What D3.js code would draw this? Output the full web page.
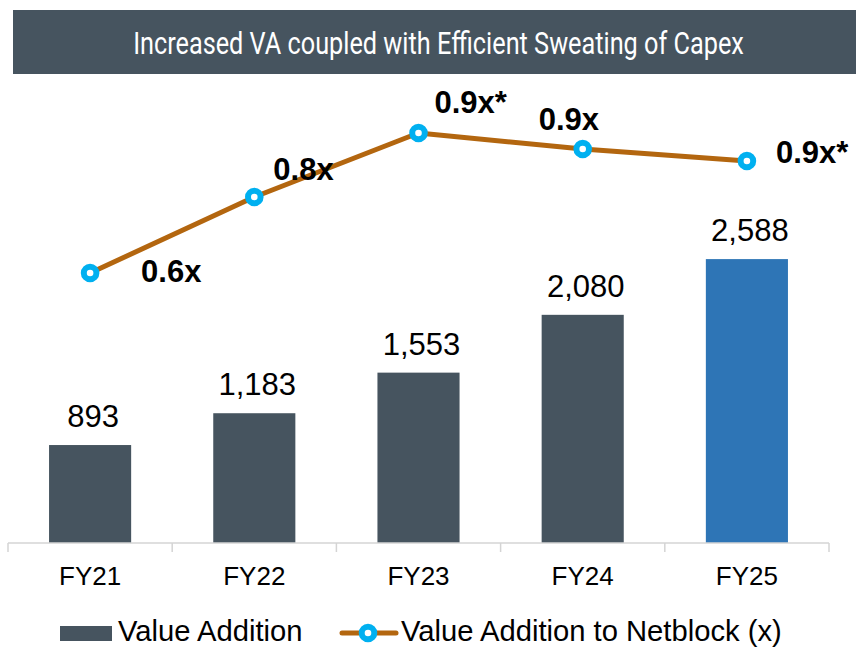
<!DOCTYPE html>
<html>
<head>
<meta charset="utf-8">
<script src="https://cdn.jsdelivr.net/npm/d3@7/dist/d3.min.js"></script>
<style>
  html, body { margin: 0; padding: 0; background: #ffffff; }
  svg { display: block; }
</style>
</head>
<body>
<svg id="chart" width="856" height="647"></svg>
<script>
// Chart data
const title = "Increased VA coupled with Efficient Sweating of Capex";
const categories = ["FY21", "FY22", "FY23", "FY24", "FY25"];
const valueAddition = [893, 1183, 1553, 2080, 2588];
const vaToNetblock = [0.59, 0.78, 0.94, 0.90, 0.87];
const netblockFootnote = [false, false, true, false, true];
const seriesNames = ["Value Addition", "Value Addition to Netblock (x)"];

const W = 856, H = 647;
const FONT = "'Liberation Sans', Arial, Helvetica, sans-serif";
const COL_BAR = "#46545f";
const COL_BAR_LAST = "#2e75b6";
const COL_LINE = "#b3660f";
const COL_MARK = "#00b0f0";

const svg = d3.select("#chart");

// Title banner with a horizontally condensed heading
svg.append("rect")
  .attr("x", 13).attr("y", 10).attr("width", W - 13).attr("height", 64)
  .attr("fill", COL_BAR);
const titleG = svg.append("g");
const titleText = titleG.append("text")
  .attr("x", 0).attr("y", 0)
  .attr("text-anchor", "middle")
  .attr("fill", "#ffffff")
  .attr("font-family", "Roboto, 'Liberation Sans', sans-serif")
  .attr("font-size", 31.5)
  .text(title);
const natural = titleText.node().getComputedTextLength();
const squeeze = 611 / natural;
titleG.attr("transform", `translate(438.5,54) scale(${squeeze},1)`);

// Scales
const axisY = 543;
const xOuter = d3.scaleBand().domain(categories).range([8, 829]).padding(0);
const xBar = d3.scaleBand().domain(categories).range([8, 829])
  .paddingInner(0.5).paddingOuter(0.25);
const yBar = d3.scaleLinear().domain([0, 4000]).range([axisY, axisY - 4000 * 0.1097]);
const yLine = d3.scaleLinear().domain([0.5, 1.0]).range([309, 109]);
const cx = c => xOuter(c) + xOuter.bandwidth() / 2;

// Bars
svg.append("g").selectAll("rect")
  .data(categories)
  .join("rect")
  .attr("x", c => xBar(c))
  .attr("width", xBar.bandwidth())
  .attr("y", (c, i) => yBar(valueAddition[i]))
  .attr("height", (c, i) => yBar(0) - yBar(valueAddition[i]))
  .attr("fill", (c, i) => i === categories.length - 1 ? COL_BAR_LAST : COL_BAR);

// Bar value labels
const fmtInt = d3.format(",");
svg.append("g").selectAll("text")
  .data(categories)
  .join("text")
  .attr("x", c => cx(c) + 3)
  .attr("y", (c, i) => yBar(valueAddition[i]) - 18)
  .attr("text-anchor", "middle")
  .attr("font-family", FONT)
  .attr("font-size", 31)
  .attr("fill", "#000")
  .text((c, i) => fmtInt(valueAddition[i]));

// Category axis: baseline and tick marks at band boundaries
const axisG = svg.append("g").attr("stroke", "#d4d4d4").attr("stroke-width", 1.5);
axisG.append("line")
  .attr("x1", xOuter.range()[0]).attr("x2", xOuter.range()[1])
  .attr("y1", axisY).attr("y2", axisY);
const tickXs = categories.map(c => xOuter(c)).concat([xOuter.range()[1]]);
axisG.selectAll("line.tick")
  .data(tickXs)
  .join("line")
  .attr("class", "tick")
  .attr("x1", d => d).attr("x2", d => d)
  .attr("y1", axisY).attr("y2", axisY + 9);

svg.append("g").selectAll("text")
  .data(categories)
  .join("text")
  .attr("x", c => cx(c))
  .attr("y", 585)
  .attr("text-anchor", "middle")
  .attr("font-family", FONT)
  .attr("font-size", 26)
  .attr("fill", "#000")
  .text(c => c);

// Ratio line
const linePts = categories.map((c, i) => [cx(c), yLine(vaToNetblock[i])]);
svg.append("path")
  .datum(linePts)
  .attr("d", d3.line())
  .attr("fill", "none")
  .attr("stroke", COL_LINE)
  .attr("stroke-width", 5)
  .attr("stroke-linejoin", "round");

svg.append("g").selectAll("circle")
  .data(linePts)
  .join("circle")
  .attr("cx", d => d[0]).attr("cy", d => d[1])
  .attr("r", 6.3)
  .attr("fill", "#fff")
  .attr("stroke", COL_MARK)
  .attr("stroke-width", 6);

// Ratio labels, each nudged clear of the line
const labelOffsets = [[51, 9], [19, -17], [16, -20], [-44, -19], [29, 2]];
const fmtRatio = d3.format(".1f");
svg.append("g").selectAll("text")
  .data(categories)
  .join("text")
  .attr("x", (c, i) => linePts[i][0] + labelOffsets[i][0])
  .attr("y", (c, i) => linePts[i][1] + labelOffsets[i][1])
  .attr("font-family", FONT)
  .attr("font-size", 31)
  .attr("font-weight", "bold")
  .attr("fill", "#000")
  .text((c, i) => fmtRatio(vaToNetblock[i]) + "x" + (netblockFootnote[i] ? "*" : ""));

// Legend
const lg = svg.append("g");
lg.append("rect")
  .attr("x", 60).attr("y", 626).attr("width", 52).attr("height", 15)
  .attr("fill", COL_BAR);
lg.append("text")
  .attr("x", 118).attr("y", 641)
  .attr("font-family", FONT).attr("font-size", 29.2).attr("fill", "#000")
  .text(seriesNames[0]);
lg.append("line")
  .attr("x1", 342).attr("x2", 396).attr("y1", 633).attr("y2", 633)
  .attr("stroke", COL_LINE).attr("stroke-width", 5).attr("stroke-linecap", "round");
lg.append("circle")
  .attr("cx", 368).attr("cy", 633).attr("r", 6.3)
  .attr("fill", "#fff").attr("stroke", COL_MARK).attr("stroke-width", 6);
lg.append("text")
  .attr("x", 401).attr("y", 641)
  .attr("font-family", FONT).attr("font-size", 29.2).attr("fill", "#000")
  .text(seriesNames[1]);
</script>
</body>
</html>
